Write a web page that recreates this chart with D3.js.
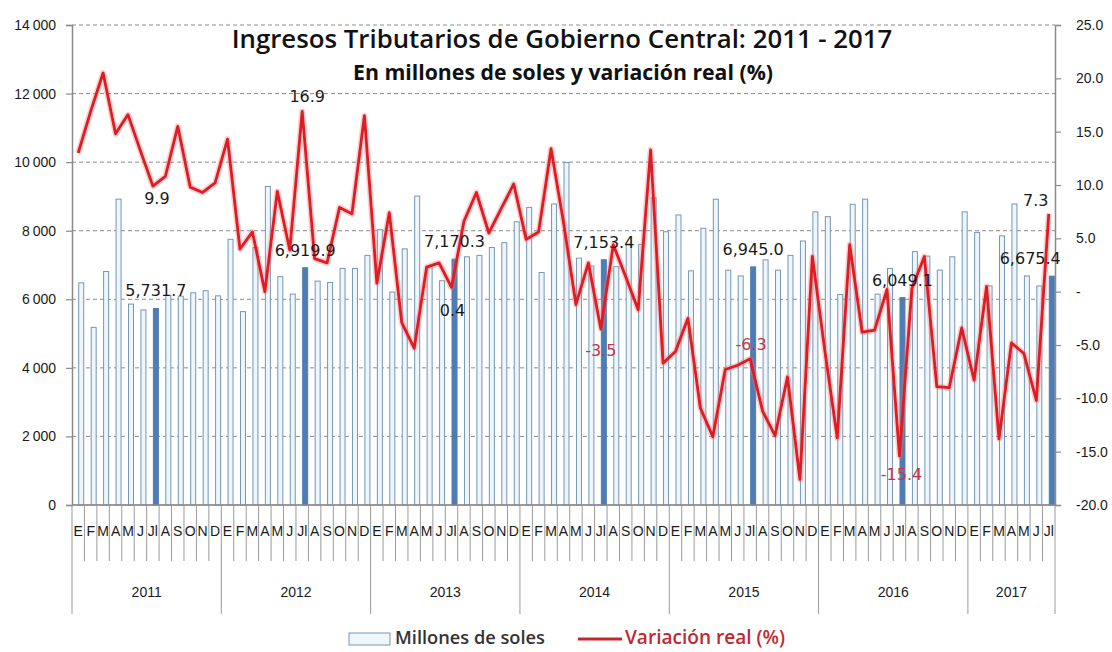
<!DOCTYPE html>
<html>
<head>
<meta charset="utf-8">
<script src="https://cdn.jsdelivr.net/npm/d3@7"></script>
<style>
  body { margin: 0; background: #fff; }
  svg { display: block; }
</style>
</head>
<body>
<div id="chart"><svg></svg></div>
<script>
var width = 1112,
    height = 652;

// data, monthly 2011-01 .. 2017-07
var years = ["2011", "2012", "2013", "2014", "2015", "2016", "2017"];
var monthLabels = ["E", "F", "M", "A", "M", "J", "Jl", "A", "S", "O", "N", "D"];

// Millones de soles
var ingresos = [
  6480, 5180, 6810, 8920, 5860, 5690, 5731.7, 6110, 6090, 6190, 6250, 6100,
  7750, 5640, 7510, 9290, 6660, 6150, 6919.9, 6530, 6490, 6900, 6900, 7280,
  8030, 6210, 7470, 9010, 6950, 6540, 7170.3, 7240, 7280, 7510, 7650, 8260,
  8680, 6780, 8780, 9990, 7200, 6970, 7153.4, 6950, 7610, 7600, 8960, 7970,
  8460, 6830, 8070, 8920, 6850, 6680, 6945.0, 7150, 6850, 7280, 7700, 8550,
  8410, 6140, 8770, 8920, 6150, 6900, 6049.1, 7390, 7260, 6850, 7240, 8550,
  7950, 6390, 7850, 8780, 6680, 6390, 6675.4
];

// Variacion real (%)
var variacion = [
  13.0, 16.9, 20.5, 14.8, 16.6, 13.2, 9.9, 10.8, 15.5, 9.8, 9.3, 10.2,
  14.3, 4.0, 5.6, 0.0, 9.4, 3.9, 16.9, 3.1, 2.7, 7.9, 7.3, 16.5,
  0.8, 7.4, -2.9, -5.3, 2.3, 2.7, 0.4, 6.6, 9.3, 5.5, 7.8, 10.1,
  4.9, 5.6, 13.4, 6.5, -1.2, 2.7, -3.5, 4.4, 1.4, -1.7, 13.3, -6.7,
  -5.6, -2.5, -10.9, -13.6, -7.3, -6.9, -6.3, -11.2, -13.5, -8.0, -17.6, 3.3,
  -5.5, -13.7, 4.4, -3.8, -3.6, 0.2, -15.4, 0.3, 3.3, -8.9, -9.0, -3.4,
  -8.3, 0.5, -13.8, -4.8, -5.8, -10.2, 7.3
];

var leftTicks = [0, 2000, 4000, 6000, 8000, 10000, 12000, 14000];
var rightTicks = [-20, -15, -10, -5, 0, 5, 10, 15, 20, 25];

// label placement for the highlighted (July) values: [dx, dy] from the point
var lineLabelPos = [[4, 18], [5, -9], [1, 29], [0, 27], [1, -9], [2, 24], [-13, -8]];

var months = ingresos.map(function (d, i) {
  return {
    i: i,
    year: years[Math.floor(i / 12)],
    label: monthLabels[i % 12],
    value: d,
    pct: variacion[i],
    july: i % 12 === 6
  };
});

var x0 = 72, x1 = 1055, yTop = 25, yBase = 505;

var x = d3.scaleBand()
  .domain(months.map(function (d) { return d.i; }))
  .range([x0, x1])
  .paddingInner(0);

var y = d3.scaleLinear().domain([0, 14000]).range([yBase, yTop]);
var y2 = d3.scaleLinear().domain([-20, 25]).range([yBase, yTop]);

var svg = d3.select("#chart svg")
  .attr("width", width)
  .attr("height", height);

// hyphen instead of unicode minus, like the original
var hy = function (s) { return s.replace("\u2212", "-"); };
var fmtThousands = d3.formatLocale({ decimal: ".", thousands: "\u2009", grouping: [3] }).format(",");
var fmtLabel = d3.format(",.1f");
var fmtPct = function (v) { return hy(d3.format(".1f")(v)); };

// shrink/grow a text to the width it has in the original
function fitWidth(sel, target) {
  var w = sel.node().getComputedTextLength();
  sel.attr("font-size", +sel.attr("font-size") * target / w);
}

// gridlines
svg.append("g")
    .attr("class", "grid")
  .selectAll("line")
    .data(leftTicks)
  .enter().append("line")
    .attr("x1", x0)
    .attr("x2", x1)
    .attr("y1", function (d) { return y(d); })
    .attr("y2", function (d) { return y(d); })
    .attr("stroke", "#8c8c8c")
    .attr("stroke-width", 1)
    .attr("stroke-dasharray", function (d) { return d === 0 ? null : "4,3"; });

// bars
var bw = 5, barShift = 3;
svg.append("g")
    .attr("class", "bars")
  .selectAll("rect")
    .data(months)
  .enter().append("rect")
    .attr("x", function (d) { return x(d.i) + x.bandwidth() / 2 + barShift - bw / 2; })
    .attr("y", function (d) { return y(d.value); })
    .attr("width", bw)
    .attr("height", function (d) { return yBase - y(d.value); })
    .attr("fill", function (d) { return d.july ? "#4f7db3" : "#eef6fb"; })
    .attr("stroke", function (d) { return d.july ? "#4f7db3" : "#7596b4"; })
    .attr("stroke-width", 1);

// line
var line = d3.line()
  .x(function (d) { return x(d.i) + x.bandwidth() / 2; })
  .y(function (d) { return y2(d.pct); });

svg.append("path")
  .datum(months)
  .attr("d", line)
  .attr("fill", "none")
  .attr("stroke", "#ff7070")
  .attr("stroke-opacity", 0.35)
  .attr("stroke-width", 6)
  .attr("stroke-linejoin", "round");

svg.append("path")
  .datum(months)
  .attr("d", line)
  .attr("fill", "none")
  .attr("stroke", "#dd1c24")
  .attr("stroke-width", 2.8)
  .attr("stroke-linejoin", "round");

// axes
var axisColor = "#8a8a8a";
var tickFont = "'Liberation Sans', Arial, sans-serif";

var gLeft = svg.append("g")
  .attr("transform", "translate(" + x0 + ",0)")
  .call(d3.axisLeft(y)
    .tickValues(leftTicks)
    .tickSize(6)
    .tickPadding(10)
    .tickFormat(function (d) { return d === 0 ? "0" : fmtThousands(d); }));

var gRight = svg.append("g")
  .attr("transform", "translate(" + x1 + ",0)")
  .call(d3.axisRight(y2)
    .tickValues(rightTicks)
    .tickSize(6)
    .tickPadding(15)
    .tickFormat(function (d) { return d === 0 ? "-" : fmtPct(d); }));

[gLeft, gRight].forEach(function (g) {
  g.select(".domain").attr("stroke", axisColor).attr("stroke-width", 1.5);
  g.selectAll(".tick line").attr("stroke", axisColor).attr("stroke-width", 1.2);
  g.selectAll(".tick text")
    .attr("font-family", tickFont)
    .attr("font-size", 14)
    .attr("fill", "#1a1a1a");
});

// category axis (months + years)
var gx = svg.append("g").attr("class", "x-axis");

gx.append("line")
  .attr("x1", x0).attr("x2", x1)
  .attr("y1", yBase).attr("y2", yBase)
  .attr("stroke", axisColor)
  .attr("stroke-width", 1.5);

gx.selectAll("line.month")
    .data(months.filter(function (d) { return d.i % 12 !== 0; }))
  .enter().append("line")
    .attr("class", "month")
    .attr("x1", function (d) { return x(d.i); })
    .attr("x2", function (d) { return x(d.i); })
    .attr("y1", yBase)
    .attr("y2", 561)
    .attr("stroke", "#9a9a9a")
    .attr("stroke-width", 1);

var yearBounds = years.map(function (yr, k) { return x(k * 12); }).concat([x1]);

gx.selectAll("line.year")
    .data(yearBounds)
  .enter().append("line")
    .attr("class", "year")
    .attr("x1", function (d) { return d; })
    .attr("x2", function (d) { return d; })
    .attr("y1", yBase)
    .attr("y2", 614)
    .attr("stroke", "#9a9a9a")
    .attr("stroke-width", 1);

gx.selectAll("text.month")
    .data(months)
  .enter().append("text")
    .attr("class", "month")
    .attr("x", function (d) { return x(d.i) + x.bandwidth() / 2; })
    .attr("y", 536)
    .attr("text-anchor", "middle")
    .attr("font-family", tickFont)
    .attr("font-size", 14)
    .attr("fill", "#1a1a1a")
    .text(function (d) { return d.label; });

gx.selectAll("text.year")
    .data(years)
  .enter().append("text")
    .attr("class", "year")
    .attr("x", function (d, k) { return (yearBounds[k] + yearBounds[k + 1]) / 2; })
    .attr("y", 597)
    .attr("text-anchor", "middle")
    .attr("font-family", tickFont)
    .attr("font-size", 14)
    .attr("fill", "#1a1a1a")
    .text(function (d) { return d; });

// data labels
var labelFont = "'DejaVu Sans', Verdana, sans-serif";
var julys = months.filter(function (d) { return d.july; });

svg.append("g")
  .selectAll("text")
    .data(julys)
  .enter().append("text")
    .attr("x", function (d, k) {
      var cx = x(d.i) + x.bandwidth() / 2 + barShift;
      return k === julys.length - 1 ? cx + 9 : cx;
    })
    .attr("y", function (d) { return y(d.value) - 12; })
    .attr("text-anchor", function (d, k) { return k === julys.length - 1 ? "end" : "middle"; })
    .attr("font-family", labelFont)
    .attr("font-size", 16)
    .attr("fill", "#1a1a1a")
    .text(function (d) { return fmtLabel(d.value); });

svg.append("g")
  .selectAll("text")
    .data(julys)
  .enter().append("text")
    .attr("x", function (d, k) { return x(d.i) + x.bandwidth() / 2 + lineLabelPos[k][0]; })
    .attr("y", function (d, k) { return y2(d.pct) + lineLabelPos[k][1]; })
    .attr("text-anchor", "middle")
    .attr("font-family", labelFont)
    .attr("font-size", 16)
    .attr("fill", function (d) { return d.pct < 0 ? "#c4344c" : "#1a1a1a"; })
    .text(function (d) { return fmtPct(d.pct); });

// title
var headFont = "'Open Sans', Lato, sans-serif";

svg.append("text")
  .attr("x", 562)
  .attr("y", 48)
  .attr("text-anchor", "middle")
  .attr("font-family", headFont)
  .attr("font-weight", 600)
  .attr("font-size", 23)
  .attr("fill", "#111")
  .text("Ingresos Tributarios de Gobierno Central: 2011 - 2017")
  .call(fitWidth, 661);

svg.append("text")
  .attr("x", 563)
  .attr("y", 80)
  .attr("text-anchor", "middle")
  .attr("font-family", headFont)
  .attr("font-weight", 700)
  .attr("font-size", 18)
  .attr("fill", "#111")
  .text("En millones de soles y variación real (%)")
  .call(fitWidth, 420);

// legend
var legend = svg.append("g").attr("class", "legend");

legend.append("rect")
  .attr("x", 349).attr("y", 633)
  .attr("width", 41).attr("height", 12)
  .attr("fill", "#eef6fb")
  .attr("stroke", "#7596b4");

legend.append("text")
  .attr("x", 395).attr("y", 644)
  .attr("font-family", headFont)
  .attr("font-weight", 600)
  .attr("font-size", 16)
  .attr("fill", "#333")
  .text("Millones de soles")
  .call(fitWidth, 150);

legend.append("line")
  .attr("x1", 578).attr("x2", 622)
  .attr("y1", 639).attr("y2", 639)
  .attr("stroke", "#c0282e")
  .attr("stroke-width", 3);

legend.append("text")
  .attr("x", 625).attr("y", 644)
  .attr("font-family", headFont)
  .attr("font-weight", 600)
  .attr("font-size", 16)
  .attr("fill", "#c0282e")
  .text("Variación real (%)")
  .call(fitWidth, 160);
</script>
</body>
</html>
